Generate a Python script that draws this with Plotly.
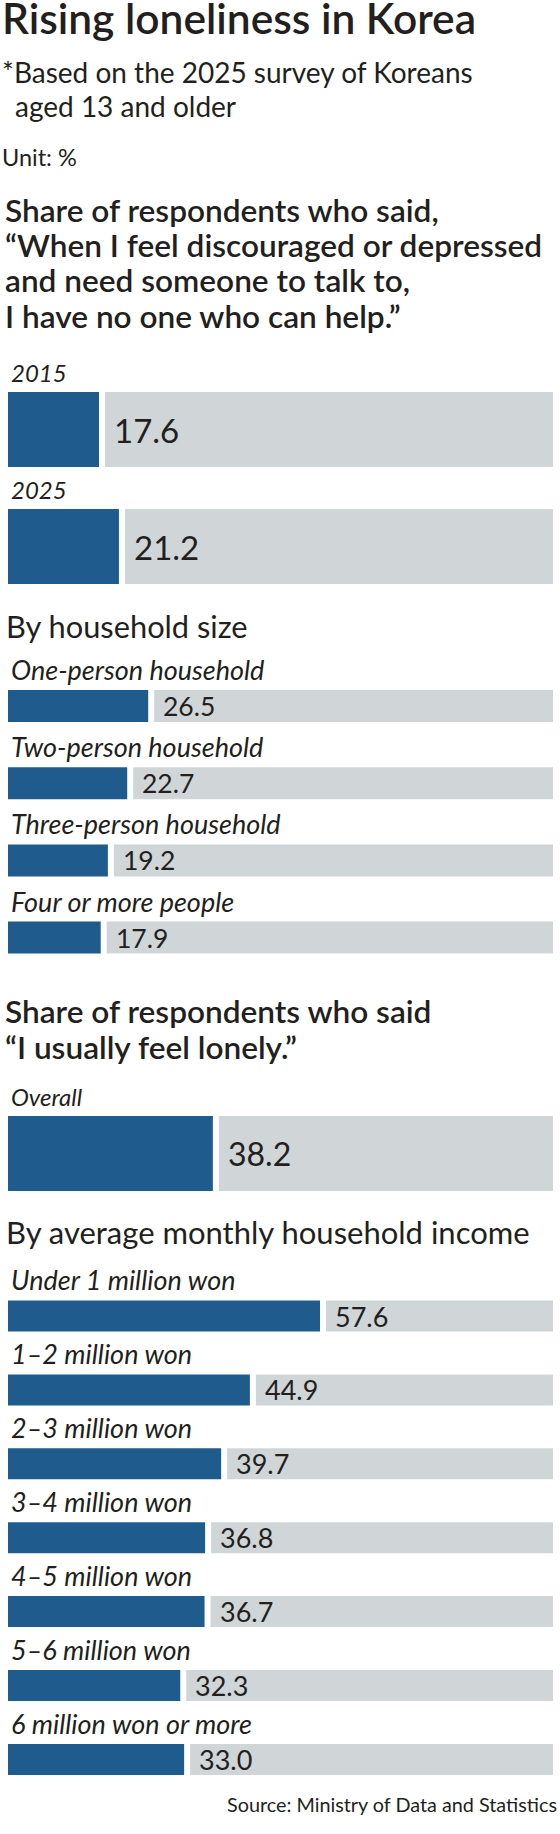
import plotly.graph_objects as go

# values (unit: %)
year_labels = ["2015", "2025"]
year_values = [17.6, 21.2]

household_labels = ["One-person household", "Two-person household",
                    "Three-person household", "Four or more people"]
household_values = [26.5, 22.7, 19.2, 17.9]

overall_labels = ["Overall"]
overall_values = [38.2]

income_labels = ["Under 1 million won", "1–2 million won", "2–3 million won",
                 "3–4 million won", "4–5 million won", "5–6 million won",
                 "6 million won or more"]
income_values = [57.6, 44.9, 39.7, 36.8, 36.7, 32.3, 33.0]

title = "Rising loneliness in Korea"
subtitle_lines = ["*Based on the 2025 survey of Koreans", "aged 13 and older"]
unit_text = "Unit: %"
heading1_lines = ["Share of respondents who said,",
                  "“When I feel discouraged or depressed",
                  "and need someone to talk to,",
                  "I have no one who can help.”"]
household_heading = "By household size"
heading2_lines = ["Share of respondents who said", "“I usually feel lonely.”"]
income_heading = "By average monthly household income"
source_text = "Source: Ministry of Data and Statistics"

# layout constants (pixels)
W, H = 560, 1834
PX_PER = 5.525      # pixels per percentage point
ZERO = 1.8          # pixel where 0 % would sit
LEFT, RIGHT, GAP, PAD = 8, 553, 6, 7
BLUE = "#1f5b8d"
GREY = "#d0d6d7"
INK = "#231f20"
FONT = "Lato"


def u(px):
    return (px - ZERO) / PX_PER


def du(px):
    return px / PX_PER


groups = [
    # labels, values, first centre, pitch, bar height, label size, value size
    (year_labels, year_values, 429.5, 117, 75, 24, 33),
    (household_labels, household_values, 706, 77.2, 32, 27, 26.5),
    (overall_labels, overall_values, 1153.5, 0, 75, 24, 32),
    (income_labels, income_values, 1316, 73.9, 31, 27, 27),
]

ys, vals, hs = [], [], []
annotations = []


def text(s, x, baseline, size, weight=400, italic=False, anchor="left"):
    annotations.append(dict(
        text=s, x=x / W, xref="paper", y=baseline - 0.39 * size, yref="y",
        xanchor=anchor, yanchor="middle", showarrow=False,
        font=dict(family=FONT, size=size, color=INK, weight=weight,
                  style="italic" if italic else "normal")))


for labels, values, c0, pitch, h, lfs, vfs in groups:
    for i, (lab, v) in enumerate(zip(labels, values)):
        c = c0 + pitch * i
        ys.append(c)
        vals.append(v)
        hs.append(h)
        text(lab, 9, c - h / 2 - 10, lfs, italic=True)
        annotations.append(dict(
            text=f"{v:.1f}", x=v + du(GAP + PAD), xref="x",
            y=c, yref="y", xanchor="left", yanchor="middle", showarrow=False,
            font=dict(family=FONT, size=vfs, color=INK)))

fig = go.Figure()
fig.add_trace(go.Bar(
    orientation="h", y=ys, x=[v - u(LEFT) for v in vals], base=u(LEFT),
    width=hs, marker=dict(color=BLUE, line=dict(width=0)), hoverinfo="skip"))
fig.add_trace(go.Bar(
    orientation="h", y=ys, x=[u(RIGHT) - (v + du(GAP)) for v in vals],
    base=[v + du(GAP) for v in vals],
    width=hs, marker=dict(color=GREY, line=dict(width=0)), hoverinfo="skip"))

text(title, 0, 34, 42.5, weight=600)
text(subtitle_lines[0], 0, 83, 28)
text(subtitle_lines[1], 13, 117, 28)
text(unit_text, 0, 166, 23.5)
for i, line in enumerate(heading1_lines):
    text(line, 3, 222 + 35.4 * i, 31.6, weight=600)
text(household_heading, 4, 639, 30.8)
for i, line in enumerate(heading2_lines):
    text(line, 3, 1023 + 36 * i, 31.6, weight=600)
text(income_heading, 4, 1244, 31)
text(source_text, 559, 1812, 19.8, anchor="right")

fig.update_layout(
    width=W, height=H, margin=dict(l=0, r=0, t=0, b=0),
    paper_bgcolor="white", plot_bgcolor="white",
    showlegend=False, barmode="overlay", annotations=annotations,
    xaxis=dict(range=[u(0), u(W)], visible=False, fixedrange=True),
    yaxis=dict(range=[H, 0], visible=False, fixedrange=True),
)
# the page's default 8px body margin would push the graphic off the window
fig.write_html("out.html", config={"displayModeBar": False},
               post_script="document.body.style.margin = '0';")
